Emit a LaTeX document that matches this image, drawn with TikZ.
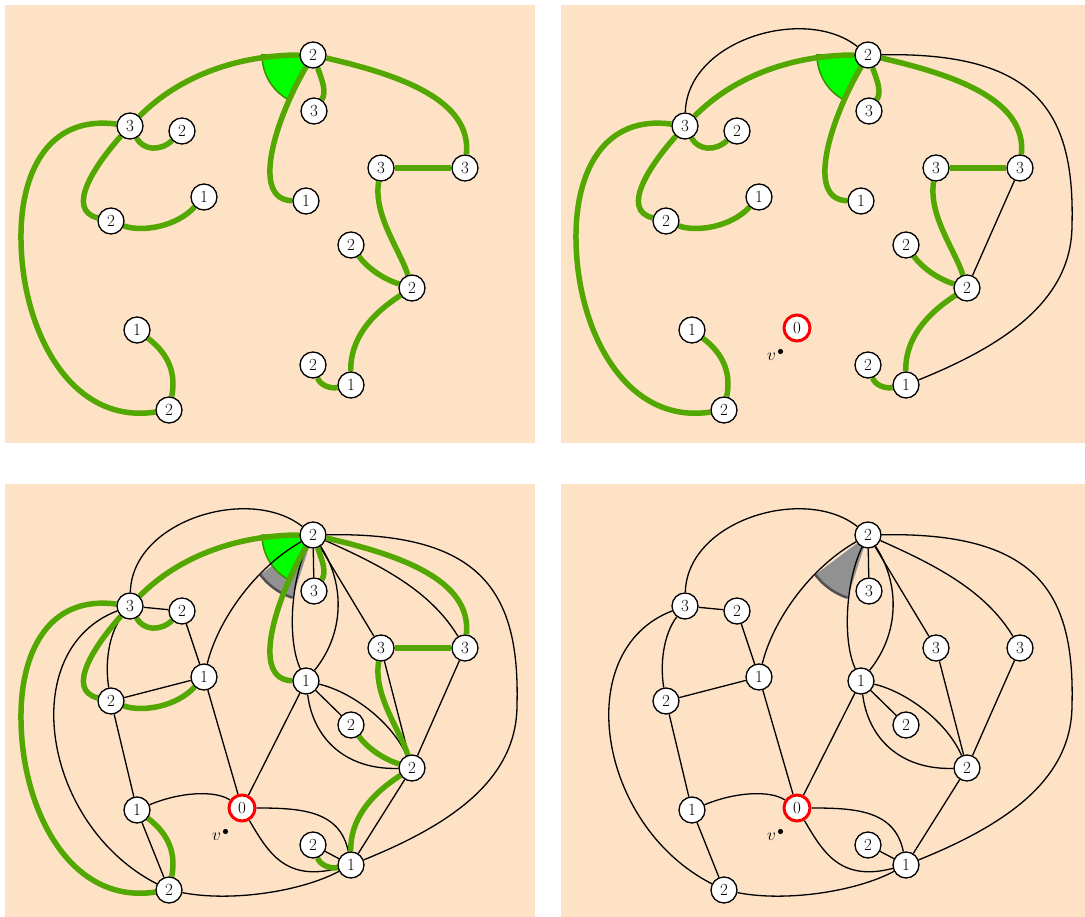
\documentclass[tikz,border=0pt]{standalone}
\usepackage{fontspec}
\definecolor{bgpeach}{RGB}{253,226,198}
\definecolor{egreen}{RGB}{82,168,0}
\definecolor{wgreen}{RGB}{0,255,0}
\definecolor{wgreenb}{RGB}{62,140,0}
\definecolor{wgray}{RGB}{145,145,145}
\definecolor{wgrayb}{RGB}{80,80,80}
\pgfdeclarelayer{back}
\pgfdeclarelayer{mid}
\pgfsetlayers{back,mid,main}
\tikzset{
 vtx/.style={circle, draw=black, fill=white, line width=1.3pt, minimum size=26pt, inner sep=0pt, font=\fontsize{17}{17}\selectfont},
 rootvtx/.style={vtx, draw=red, line width=3pt},
 gedge/.style={draw=egreen, line width=5.5pt},
 bedge/.style={draw=black, line width=1.3pt},
 panelbg/.style={fill=bgpeach},
}
\newcommand\basenodes[1]{%
 \node[vtx] (#1t2) at (313,55) {2};
 \node[vtx] (#1t3) at (314,111) {3};
 \node[vtx] (#1l3) at (130,126) {3};
 \node[vtx] (#1l2) at (182,131) {2};
 \node[vtx] (#1m1) at (204,197) {1};
 \node[vtx] (#1m2) at (111,221) {2};
 \node[vtx] (#1c1) at (306,201) {1};
 \node[vtx] (#1r3) at (381,168) {3};
 \node[vtx] (#1rr3) at (465,168) {3};
 \node[vtx] (#1c2) at (351,245) {2};
 \node[vtx] (#1b2) at (412,288) {2};
 \node[vtx] (#1bl1) at (137,330) {1};
 \node[vtx] (#1bl2) at (169,410) {2};
 \node[vtx] (#1br2) at (313,365) {2};
 \node[vtx] (#1br1) at (351,385) {1};
}
\newcommand\rootnode[1]{%
 \node[rootvtx] (#1z0) at (242,328) {0};
 \coordinate (#1v) at (225.5,351.5);
 \fill (#1v) circle (2.6);
 \node[inner sep=0pt, font=\fontsize{17}{17}\selectfont] (#1vl) at (216.5,357) {$v$};
}
\newcommand\greenwedge[1]{%
 \filldraw[fill=wgreen, draw=wgreenb, line width=1.5pt] (#1t2.center) -- ++(180:51) arc[start angle=180, end angle=120, radius=51] -- cycle;}
\newcommand\graywedge[1]{%
 \fill[wgray] (#1t2.center) -- ++(143:66) arc[start angle=143, end angle=108, radius=66] -- cycle;
 \draw[wgrayb, line width=2.5pt] (#1t2.center) ++(143:66) arc[start angle=143, end angle=108, radius=66];}
\newcommand\blackpart[1]{%
 \draw[bedge] (#1l3) .. controls (132,40) and (250,5) .. (#1t2);
 \draw[bedge] (#1t2) .. controls (480,52) and (520,110) .. (517,225) .. controls (517,300) and (450,345) .. (#1br1);
 \draw[bedge] (#1b2) -- (#1rr3);
}
\newcommand\blackrest[1]{%
 \draw[bedge] (#1l3) -- (#1l2);
 \draw[bedge] (#1l3) .. controls (108,155) and (105,185) .. (#1m2);
 \draw[bedge] (#1l3) .. controls (15,170) and (42,345) .. (#1bl2);
 \draw[bedge] (#1l2) -- (#1m1);
 \draw[bedge] (#1m2) -- (#1m1);
 \draw[bedge] (#1m2) -- (#1bl1);
 \draw[bedge] (#1m1) -- (#1z0);
 \draw[bedge] (#1m1) .. controls (218,140) and (255,88) .. (#1t2);
 \draw[bedge] (#1bl1) -- (#1bl2);
 \draw[bedge] (#1bl1) .. controls (180,312) and (215,310) .. (#1z0);
 \draw[bedge] (#1z0) -- (#1c1);
 \draw[bedge] (#1z0) .. controls (300,328) and (340,330) .. (#1br1);
 \draw[bedge] (#1z0) .. controls (268,372) and (285,402) .. (#1br1);
 \draw[bedge] (#1bl2) .. controls (230,422) and (300,412) .. (#1br1);
 \draw[bedge] (#1br2) -- (#1br1);
 \draw[bedge] (#1br1) -- (#1b2);
 \draw[bedge] (#1b2) -- (#1r3);
 \draw[bedge] (#1c1) .. controls (352,212) and (392,242) .. (#1b2);
 \draw[bedge] (#1c1) .. controls (313,258) and (345,290) .. (#1b2);
 \draw[bedge] (#1c1) -- (#1c2);
 \draw[bedge] (#1t2) .. controls (291,100) and (287,160) .. (#1c1);
 \draw[bedge] (#1t2) .. controls (343,100) and (347,150) .. (#1c1);
 \draw[bedge] (#1t2) -- (#1t3);
 \draw[bedge] (#1t2) -- (#1r3);
 \draw[bedge] (#1t2) .. controls (380,85) and (430,110) .. (#1rr3);
}
\newcommand\greenedges[1]{%
 \draw[gedge] (#1l3) .. controls (180,75) and (240,55) .. (#1t2);
 \draw[gedge] (#1t2) .. controls (275,120) and (250,200) .. (#1c1);
 \draw[gedge] (#1t2) .. controls (322,80) and (327,92) .. (#1t3);
 \draw[gedge] (#1t2) .. controls (400,75) and (472,100) .. (#1rr3);
 \draw[gedge] (#1r3) -- (#1rr3);
 \draw[gedge] (#1r3) .. controls (373,215) and (400,250) .. (#1b2);
 \draw[gedge] (#1c2) .. controls (365,265) and (380,278) .. (#1b2);
 \draw[gedge] (#1b2) .. controls (370,315) and (350,340) .. (#1br1);
 \draw[gedge] (#1br2) .. controls (320,385) and (330,389) .. (#1br1);
 \draw[gedge] (#1l3) .. controls (50,115) and (20,170) .. (21,240) .. controls (22,330) and (70,425) .. (#1bl2);
 \draw[gedge] (#1l3) .. controls (143,150) and (160,152) .. (#1l2);
 \draw[gedge] (#1l3) .. controls (95,165) and (65,210) .. (#1m2);
 \draw[gedge] (#1m2) .. controls (140,232) and (175,228) .. (#1m1);
 \draw[gedge] (#1bl1) .. controls (170,355) and (176,375) .. (#1bl2);
}
\begin{document}
\begin{tikzpicture}[x=1pt,y=-1pt]
\useasboundingbox (0,0) rectangle (1085,917);
\begin{pgfonlayer}{back}
 \fill[panelbg] (5,5) rectangle (535,443);
 \fill[panelbg] (561,5) rectangle (1091,443);
 \fill[panelbg] (5,484) rectangle (535,922);
 \fill[panelbg] (561,484) rectangle (1091,922);
\end{pgfonlayer}
% panel 1
\begin{scope}
 \basenodes{A}
 \begin{pgfonlayer}{back}\greenwedge{A}\end{pgfonlayer}
 \begin{pgfonlayer}{mid}\greenedges{A}\end{pgfonlayer}
\end{scope}
% panel 2
\begin{scope}[shift={(555,0)}]
 \basenodes{B}
 \rootnode{B}
 \begin{pgfonlayer}{back}\greenwedge{B}\end{pgfonlayer}
 \begin{pgfonlayer}{mid}\blackpart{B}\greenedges{B}\end{pgfonlayer}
\end{scope}
% panel 3
\begin{scope}[shift={(0,480)}]
 \basenodes{C}
 \rootnode{C}
 \begin{pgfonlayer}{back}\graywedge{C}\greenwedge{C}\end{pgfonlayer}
 \begin{pgfonlayer}{mid}\blackpart{C}\blackrest{C}\greenedges{C}\end{pgfonlayer}
\end{scope}
% panel 4
\begin{scope}[shift={(555,480)}]
 \basenodes{D}
 \rootnode{D}
 \begin{pgfonlayer}{back}\graywedge{D}\end{pgfonlayer}
 \begin{pgfonlayer}{mid}\blackpart{D}\blackrest{D}\end{pgfonlayer}
\end{scope}
\end{tikzpicture}
\end{document}
